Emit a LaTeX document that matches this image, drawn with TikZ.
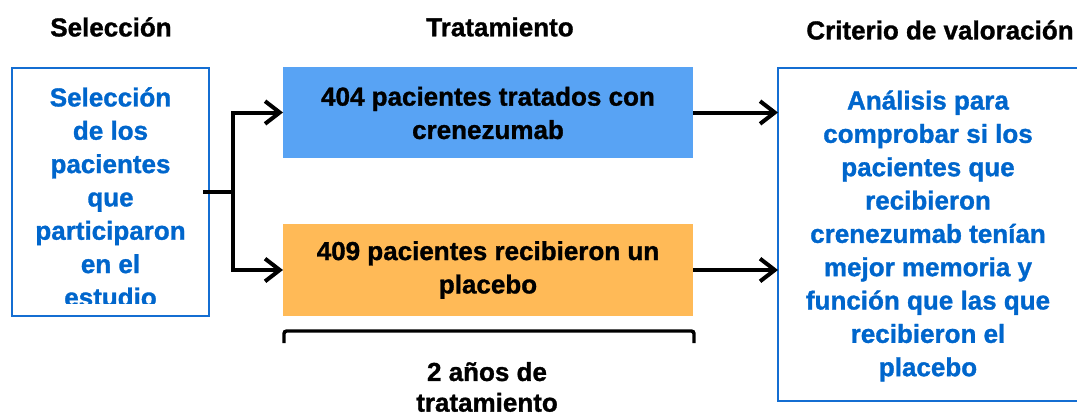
\documentclass[tikz,border=0pt]{standalone}
\usepackage{fontspec}
\setmainfont{Liberation Sans}[BoldFeatures={FakeBold=1.2}]
\usetikzlibrary{arrows.meta}
\definecolor{txtblue}{RGB}{0,102,204}
\definecolor{boxblue}{RGB}{88,163,244}
\definecolor{boxorange}{RGB}{255,186,87}
\definecolor{frameblue}{RGB}{20,110,210}
\begin{document}
\begin{tikzpicture}[x=0.75pt,y=-0.75pt,
  every node/.style={inner sep=0pt,outer sep=0pt},
  lbl/.style={font=\fontsize{19.5}{25}\selectfont\bfseries,align=center},
  frame/.style={draw=frameblue,line width=1.6pt},
  fillbox/.style={minimum width=307.5pt,minimum height=68.5pt},
  arr/.style={line width=3pt,-{Straight Barb[length=11pt,width=17pt,line width=3pt]}},
  stem/.style={line width=2.4pt},
  brk/.style={line width=2.6pt,rounded corners=2pt}]
\useasboundingbox (0,0) rectangle (1077,418);
% headings
\node[lbl] (h1) at (111,27) {Selección};
\node[lbl] (h2) at (500,27) {Tratamiento};
\node[lbl] (h3) at (940,30) {Criterio de valoración};
% boxes
\node[frame,minimum width=147.75pt,minimum height=186pt] (sel) at (110.5,192) {};
\node[fillbox,fill=boxblue] (trt) at (488,112.5) {};
\node[fillbox,fill=boxorange] (pla) at (488,270) {};
\node[frame,minimum width=241.5pt,minimum height=249.75pt] (res) at (939,234.5) {};
% texts
\begin{scope}
\clip (12,68) rectangle (209,303);
\node[lbl,text=txtblue] (selt) at (110.5,197) {Selección\\de los\\pacientes\\que\\participaron\\en el\\estudio};
\end{scope}
\node[lbl] (trtt) at (488,113) {404 pacientes tratados con\\crenezumab};
\node[lbl] (plat) at (488,270) {409 pacientes recibieron un\\placebo};
\node[lbl,text=txtblue] (rest) at (928,236) {Análisis para\\comprobar si los\\pacientes que\\recibieron\\crenezumab tenían\\mejor memoria y\\función que las que\\recibieron el\\placebo};
% connectors
\coordinate (split) at (233,192);
\draw[stem] ([xshift=-4.5pt]sel.east) -- (split);
\draw[arr] (split) |- (trt.west);
\draw[arr] (split) |- (pla.west);
\draw[arr] (trt.east) -- (trt.east -| res.west);
\draw[arr] (pla.east) -- (pla.east -| res.west);
% bracket
\coordinate (b1) at (284,343);
\coordinate (b2) at (694,343);
\draw[brk] (b1) -- (284,331) -- (694,331) -- (b2);
\node[lbl,font=\fontsize{19.5}{23}\selectfont\bfseries] (dur) at (487,387) {2 años de\\tratamiento};
\end{tikzpicture}
\end{document}
